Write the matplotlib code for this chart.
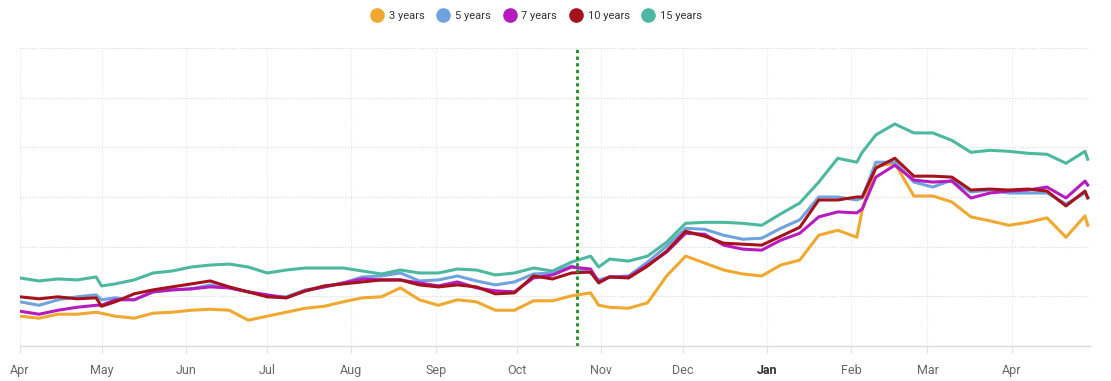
import matplotlib
matplotlib.use("Agg")
import matplotlib.pyplot as plt
from matplotlib.lines import Line2D
import pandas as pd
import numpy as np

plt.rcParams["font.family"] = ["Roboto", "DejaVu Sans"]

# weekly dates from 1 Apr 2022, plus final observation
week_dates = list(pd.date_range("2022-04-01", periods=57, freq="7D")) + [pd.Timestamp("2023-04-29")]

y15 = [1.37, 1.31, 1.35, 1.33, 1.39, 1.25, 1.33, 1.47, 1.51, 1.59, 1.63, 1.65, 1.59, 1.47, 1.53,
       1.57, 1.57, 1.57, 1.51, 1.45, 1.53, 1.47, 1.47, 1.55, 1.53, 1.43, 1.47, 1.57, 1.51, 1.69,
       1.81, 1.75, 1.71, 1.81, 2.09, 2.47, 2.49, 2.49, 2.47, 2.43, 2.66, 2.88, 3.30, 3.78, 3.70,
       4.25, 4.47, 4.29, 4.29, 4.14, 3.90, 3.94, 3.92, 3.88, 3.86, 3.68, 3.92, 3.76]
y10 = [0.99, 0.95, 0.99, 0.95, 0.97, 0.89, 1.05, 1.13, 1.19, 1.25, 1.31, 1.19, 1.09, 0.99, 0.97,
       1.11, 1.21, 1.25, 1.29, 1.33, 1.33, 1.23, 1.19, 1.23, 1.19, 1.05, 1.07, 1.41, 1.35, 1.47,
       1.49, 1.39, 1.37, 1.61, 1.91, 2.31, 2.21, 2.07, 2.05, 2.03, 2.21, 2.39, 2.94, 2.94, 3.00,
       3.58, 3.78, 3.42, 3.42, 3.40, 3.14, 3.16, 3.14, 3.16, 3.12, 2.82, 3.12, 2.98]
y5 = [0.89, 0.82, 0.93, 0.99, 1.03, 0.97, 0.93, 1.09, 1.13, 1.15, 1.23, 1.17, 1.09, 1.01, 0.99,
      1.13, 1.19, 1.27, 1.39, 1.41, 1.47, 1.31, 1.33, 1.41, 1.31, 1.23, 1.29, 1.45, 1.47, 1.61,
      1.47, 1.39, 1.41, 1.69, 2.01, 2.37, 2.35, 2.23, 2.15, 2.17, 2.37, 2.54, 3.00, 3.00, 2.94,
      3.70, 3.70, 3.30, 3.20, 3.34, 3.10, 3.14, 3.08, 3.08, 3.08, 2.86, 3.08, 3.00]
y7 = [0.70, 0.64, 0.72, 0.78, 0.82, 0.93, 0.93, 1.09, 1.13, 1.15, 1.19, 1.17, 1.09, 1.03, 0.97,
      1.11, 1.19, 1.27, 1.35, 1.33, 1.33, 1.27, 1.21, 1.29, 1.17, 1.11, 1.09, 1.37, 1.43, 1.59,
      1.55, 1.39, 1.39, 1.63, 1.89, 2.27, 2.25, 2.03, 1.95, 1.93, 2.13, 2.27, 2.60, 2.70, 2.68,
      3.40, 3.64, 3.34, 3.30, 3.32, 2.98, 3.08, 3.12, 3.14, 3.20, 2.98, 3.32, 3.24]
y3 = [0.60, 0.56, 0.64, 0.64, 0.68, 0.60, 0.56, 0.66, 0.68, 0.72, 0.74, 0.72, 0.52, 0.60, 0.68,
      0.76, 0.80, 0.89, 0.97, 0.99, 1.17, 0.93, 0.82, 0.93, 0.89, 0.72, 0.72, 0.91, 0.91, 1.01,
      1.07, 0.78, 0.76, 0.87, 1.41, 1.81, 1.67, 1.53, 1.45, 1.41, 1.63, 1.73, 2.23, 2.33, 2.19,
      3.62, 3.68, 3.02, 3.02, 2.90, 2.60, 2.52, 2.43, 2.49, 2.58, 2.19, 2.62, 2.43]

# extra observations at notable moves
extra_dates = [pd.Timestamp("2022-05-01"), pd.Timestamp("2022-10-31"), pd.Timestamp("2023-02-05")]
x15 = [1.21, 1.59, 3.90]
x10 = [0.80, 1.27, 3.00]
x5 = [0.93, 1.33, 2.98]
x7 = [0.82, 1.29, 2.76]
x3 = [0.66, 0.82, 2.74]

series_labels = ["3 years", "5 years", "7 years", "10 years", "15 years"]
series_values = [(y3, x3), (y5, x5), (y7, x7), (y10, x10), (y15, x15)]
series_colors = ["#F0A830", "#6FA3E0", "#B51BBF", "#A5121C", "#4DB8A0"]
marker_date = pd.Timestamp("2022-10-23")
month_ticks = list(pd.date_range("2022-04-01", "2023-04-01", freq="MS"))
month_labels = [d.strftime("%b") for d in month_ticks]

fig = plt.figure(figsize=(11.11, 3.81), dpi=100)
ax = fig.add_axes([20 / 1111, 1 - 346 / 381, 1070 / 1111, 298 / 381])

for lab, (base, extra), col in zip(series_labels, series_values, series_colors):
    s = pd.Series(list(base) + list(extra), index=week_dates + extra_dates).sort_index()
    ax.plot(s.index, s.values, color=col, lw=2.2, solid_joinstyle="round", zorder=3)

ax.axvline(marker_date, color="#1E8C1E", lw=2, ls=(0, (1.2, 1.2)), zorder=4)

ax.set_ylim(0, 6)
ax.set_xlim(pd.Timestamp("2022-04-01"), pd.Timestamp("2023-04-29 20:00"))
ax.set_yticks(range(0, 7))
ax.set_yticklabels([])
ax.tick_params(axis="y", length=0)
ax.set_xticks(month_ticks)
ax.set_xticklabels(month_labels)
ax.tick_params(axis="x", length=5, color="#e0e0e0", labelsize=9, labelcolor="#666666", pad=8)
for t in ax.get_xticklabels():
    if t.get_text() == "Jan":
        t.set_fontweight("bold")
        t.set_color("#333333")

ax.grid(axis="y", color="#d9d9d9", ls=(0, (1, 1.5)), lw=0.8)
ax.grid(axis="x", color="#e6e6e6", ls=(0, (1, 1.5)), lw=0.8)
for s in ["top", "right", "left"]:
    ax.spines[s].set_visible(False)
ax.spines["bottom"].set_color("#dddddd")
ax.spines["bottom"].set_linewidth(1)

handles = [Line2D([], [], ls="none", marker="o", markersize=9.5, markerfacecolor=c,
                  markeredgecolor=c) for c in series_colors]
fig.legend(handles, series_labels, loc="center", bbox_to_anchor=(534 / 1111, 1 - 16 / 381),
           ncol=5, frameon=False, fontsize=8, handletextpad=0.05, columnspacing=0.7,
           labelcolor="#333333")

fig.savefig("out.png", dpi=100)
